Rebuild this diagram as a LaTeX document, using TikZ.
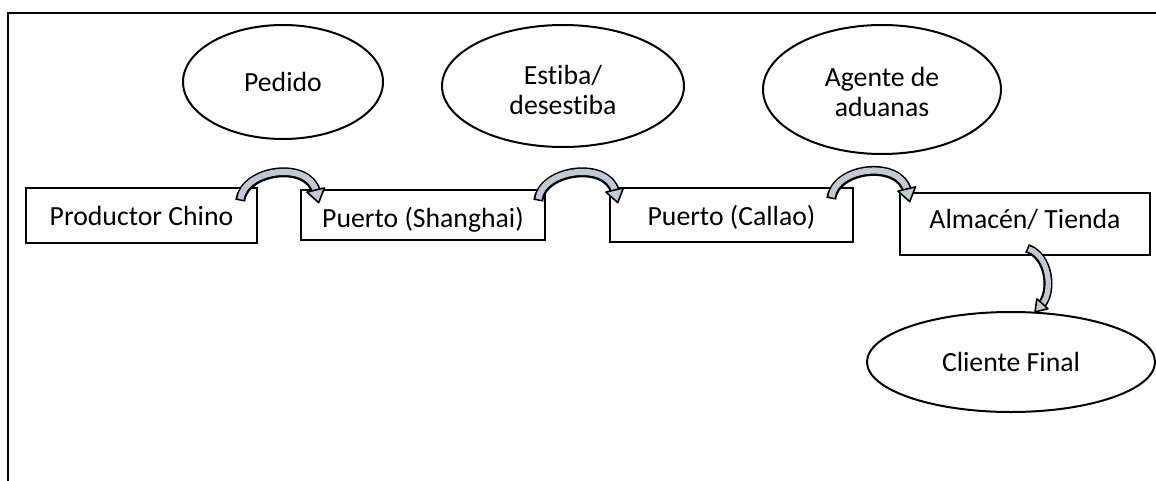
\documentclass[tikz,border=0pt]{standalone}
\usepackage{fontspec}
\setmainfont{Carlito}[Ligatures=NoCommon]
\usetikzlibrary{shapes.geometric,decorations.markings,calc}
\definecolor{arrowfill}{RGB}{192,202,212}
\tikzset{
  boxnode/.style={draw=black, line width=1.9pt, rectangle, inner sep=0pt, align=center,
    text height=15.6pt, text depth=0pt},
  ovalnode/.style={draw=black, line width=1.5pt, ellipse, inner sep=0pt, align=center},
  lbl/.style={inner sep=0pt, align=center},
  frameline/.style={draw=black, line width=1.7pt},
  carrow/.style={
    postaction={draw=black, line width=7.5pt, shorten >=8pt},
    postaction={draw=arrowfill, line width=4.6pt, shorten >=9pt, shorten <=1.2pt},
    postaction={decorate, decoration={markings, mark=at position 0.999 with {%
      \filldraw[fill=arrowfill, draw=black, line width=1.2pt, line join=round]
        (-13,-9) -- (0,0) -- (-13,9) -- cycle;}}}
  },
  carrowsmall/.style={
    postaction={draw=black, line width=6.8pt, shorten >=7pt},
    postaction={draw=arrowfill, line width=4pt, shorten >=8pt, shorten <=1.2pt},
    postaction={decorate, decoration={markings, mark=at position 0.999 with {%
      \filldraw[fill=arrowfill, draw=black, line width=1.2pt, line join=round]
        (-11,-7.5) -- (0,0) -- (-11,7.5) -- cycle;}}}
  }
}
\begin{document}
\begin{tikzpicture}[x=0.75pt, y=-0.75pt, font=\fontsize{20.8}{23}\selectfont]
\useasboundingbox (0,0) rectangle (1156,481);
\fill[white] (0,0) rectangle (1156,481);

% frame
\coordinate (fb) at (8,481);
\coordinate (fc) at (8,13);
\coordinate (fr) at (1160,13);
\draw[frameline] (fb) -- (fc) -- (fr);

% ellipses
\node[ovalnode, minimum width=150pt, minimum height=85.5pt] (ped) at (283,82) {Pedido};
\node[ovalnode, minimum width=181.5pt, minimum height=91.5pt] (est) at (563,86) {};
\node[lbl] (estl) at (563,90) {Estiba/\\desestiba};
\node[ovalnode, minimum width=178.5pt, minimum height=96.75pt] (age) at (882,89.5) {};
\node[lbl] (agel) at (882,92) {Agente de\\aduanas};
\node[ovalnode, minimum width=216pt, minimum height=75pt] (cf) at (1011,362) {Cliente Final};

% boxes
\node[boxnode, minimum width=173.25pt, minimum height=41.25pt] (b1) at (141.5,215.5) {Productor Chino};
\node[boxnode, minimum width=183pt, minimum height=37.5pt, text height=19pt] (b2) at (423,215) {Puerto (Shanghai)};
\node[boxnode, minimum width=182.25pt, minimum height=40.5pt] (b3) at (731.5,215) {Puerto (Callao)};
\node[boxnode, minimum width=187.5pt, minimum height=46.5pt, text depth=9pt] (b4) at (1025,224) {Almac\'en/ Tienda};

% curved arrows
\path[carrow] ([shift={(-18,14)}]b1.north east) .. controls +(4,-32) and +(-10,-42) .. ([shift={(19,14)}]b2.north west);
\path[carrow] ([shift={(-8,12)}]b2.north east) .. controls +(4,-32) and +(-10,-42) .. ([shift={(9,16)}]b3.north west);
\path[carrow] ([shift={(-23,12)}]b3.north east) .. controls +(4,-32) and +(-10,-42) .. ([shift={(11,10)}]b4.north west);
\path[carrowsmall] ([shift={(2,-8)}]b4.south) .. controls +(23,8) and +(18,-20) .. ([shift={(24,1)}]cf.north);
\end{tikzpicture}
\end{document}
